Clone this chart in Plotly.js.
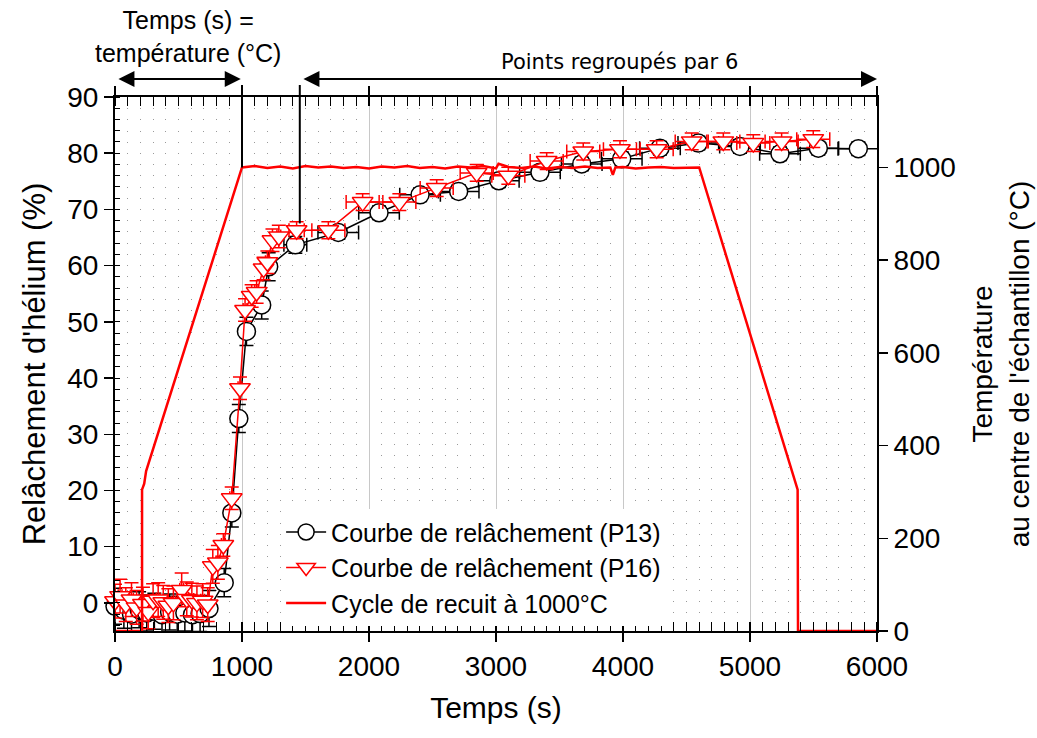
<!DOCTYPE html>
<html>
<head>
<meta charset="utf-8">
<script src="https://cdn.plot.ly/plotly-3.0.1.min.js"></script>
<style>html,body{margin:0;padding:0;background:#fff;}#chart{width:1037px;height:738px;}</style>
</head>
<body>
<div id="chart"></div>
<script>
// P13 release curve (black circles)
var t13 = [0, 70, 130, 190, 250, 310, 370, 430, 490, 550, 610, 670, 740, 860, 920, 975, 1035, 1155, 1210, 1420, 1758, 2079, 2402, 2706, 3022, 3346, 3675, 3990, 4291, 4593, 4921, 5236, 5538, 5853];
var y13 = [-0.6, -1.3, -2.0, -1.2, -1.8, -1.5, -2.1, -1.6, -2.0, -1.8, -2.1, -1.9, -1.0, 3.6, 16.0, 32.8, 48.3, 53.0, 59.8, 63.7, 65.9, 69.4, 72.6, 73.2, 75.1, 76.6, 78.1, 79.0, 80.9, 81.8, 81.2, 79.9, 80.9, 80.8];
var ey13 = [3.2, 3.2, 3.2, 3.2, 3.2, 3.2, 3.2, 3.2, 3.2, 3.2, 3.2, 3.2, 3.2, 2.5, 2.5, 2.5, 2.5, 2.5, 2.5, 1.5, 1.2, 1.2, 1.2, 1.2, 1.2, 1.2, 1.2, 1.2, 1.2, 1.2, 1.2, 1.2, 1.2, 1.2];
var ex13 = [10, 10, 10, 10, 10, 10, 10, 10, 10, 10, 10, 10, 10, 10, 10, 10, 10, 10, 10, 90, 160, 160, 160, 160, 160, 160, 160, 160, 160, 160, 160, 160, 160, 160];

// P16 release curve (red down-triangles)
var t16 = [0, 40, 85, 130, 170, 220, 262, 300, 340, 380, 420, 460, 525, 565, 605, 645, 690, 730, 770, 810, 853, 919, 984, 1024, 1076, 1115, 1170, 1200, 1240, 1290, 1430, 1680, 1950, 2239, 2533, 2848, 3097, 3399, 3687, 3976, 4265, 4541, 4790, 5026, 5249, 5498];
var y16 = [0.3, 1.2, -0.3, 0.6, -0.8, -0.2, -1.6, 0.4, 0.6, 0.1, -0.5, 0.0, 2.3, 0.7, 0.5, 0.0, 0.4, -0.3, 6.5, 7.2, 10.3, 18.6, 38.2, 52.1, 54.6, 55.3, 59.5, 60.6, 64.5, 65.2, 66.3, 66.3, 71.3, 71.3, 73.8, 76.5, 76.0, 78.6, 80.3, 80.7, 80.7, 82.1, 82.1, 81.8, 82.1, 82.5];
var ey16 = [3, 3, 3, 3, 3, 3, 3, 3, 3, 3, 3, 3, 3, 3, 3, 3, 3, 3, 3, 3, 2, 2, 2, 2, 2, 2, 2, 2, 2, 2, 1.5, 1.5, 1.5, 1.5, 1.5, 1.5, 1.5, 1.5, 1.5, 1.5, 1.5, 1.5, 1.5, 1.5, 1.5, 1.5];
var ex16 = [15, 15, 15, 15, 15, 15, 15, 15, 15, 15, 15, 15, 15, 15, 15, 15, 15, 15, 15, 15, 15, 15, 15, 15, 15, 15, 15, 15, 15, 15, 60, 130, 130, 130, 130, 130, 130, 130, 130, 130, 130, 130, 130, 130, 130, 130];

// Annealing cycle (temperature, °C)
var tCycle = [0, 213, 213, 230, 245, 1000, 1100, 1200, 1300, 1400, 1500, 1600, 1700, 1800, 1900, 2000, 2100, 2200, 2300, 2400, 2500, 2600, 2700, 2800, 2900, 3000, 3020, 3100, 3200, 3300, 3400, 3500, 3600, 3700, 3800, 3900, 3920, 3940, 4000, 4100, 4200, 4300, 4400, 4500, 4600, 5375, 5378, 6000];
var TCycle = [0, 0, 305, 318, 345, 1000, 1003, 999, 1002, 998, 1003, 1000, 1002, 999, 1001, 998, 1002, 1000, 1003, 999, 1001, 998, 1002, 1000, 1003, 998, 1008, 1001, 999, 1002, 998, 1001, 999, 1002, 999, 1000, 984, 1000, 1001, 998, 1000, 1001, 999, 1000, 1000, 305, 0, 0];

var names = ['Courbe de relâchement (P13)', 'Courbe de relâchement (P16)', 'Cycle de recuit à 1000°C'];
var xTicks = [0, 1000, 2000, 3000, 4000, 5000, 6000];
var yRange = [-5, 90];
var y2Range = [0, 1152];
var FONT = 'Liberation Sans, Arial, sans-serif';

var traces = [
  {
    x: t13, y: y13, name: names[0], type: 'scatter', mode: 'lines+markers',
    line: {color: '#000', width: 1.5},
    marker: {symbol: 'circle', size: 18, color: '#fff', line: {color: '#000', width: 1.5}},
    error_y: {type: 'data', array: ey13, visible: true, color: '#000', thickness: 1.5, width: 7},
    error_x: {type: 'data', array: ex13, visible: true, color: '#000', thickness: 1.5, width: 7},
    cliponaxis: false
  },
  {
    x: t16, y: y16, name: names[1], type: 'scatter', mode: 'lines+markers',
    line: {color: '#ff0000', width: 1.5},
    marker: {symbol: 'triangle-down', size: 18, color: '#fff', line: {color: '#ff0000', width: 1.5}},
    error_y: {type: 'data', array: ey16, visible: true, color: '#ff0000', thickness: 1.5, width: 7},
    error_x: {type: 'data', array: ex16, visible: true, color: '#ff0000', thickness: 1.5, width: 7},
    cliponaxis: false
  },
  {
    x: tCycle, y: TCycle, name: names[2], type: 'scatter', mode: 'lines', yaxis: 'y2',
    line: {color: '#ff0000', width: 2.5}
  }
];

var arrowY = 1.0337;
var lineTop = 1.0225;
var layout = {
  width: 1037, height: 738,
  margin: {l: 115, r: 160, t: 97, b: 107},
  paper_bgcolor: '#fff', plot_bgcolor: '#fff',
  font: {family: FONT, color: '#000'},
  showlegend: true,
  legend: {
    x: 0.218, y: 0.228, xanchor: 'left', yanchor: 'top',
    bgcolor: '#fff', borderwidth: 0,
    font: {family: FONT, size: 25, color: '#000'},
    tracegroupgap: 0, itemwidth: 40
  },
  xaxis: {
    range: [0, 6000], tickvals: xTicks, ticktext: xTicks.map(String),
    ticks: 'outside', ticklen: 9, tickwidth: 1.5, tickcolor: '#000',
    showline: true, linecolor: '#000', linewidth: 2, mirror: 'allticks',
    showgrid: true, gridcolor: '#c8c8c8', gridwidth: 1, zeroline: false,
    tickfont: {family: FONT, size: 28},
    minor: {dtick: 100, tick0: 0, ticks: 'inside', ticklen: 5, tickwidth: 1, tickcolor: '#000',
            showgrid: true, gridcolor: '#9a9a9a', gridwidth: 1, griddash: '1px,10.2px'},
    title: {text: 'Temps (s)', font: {family: FONT, size: 30}, standoff: 16}
  },
  yaxis: {
    range: yRange, dtick: 10, tick0: 0,
    ticks: 'outside', ticklen: 9, tickwidth: 1.5, tickcolor: '#000',
    showline: true, linecolor: '#000', linewidth: 2, mirror: false,
    showgrid: false, zeroline: false,
    tickfont: {family: FONT, size: 28},
    minor: {dtick: 2, tick0: 0, ticks: 'inside', ticklen: 5, tickwidth: 1, tickcolor: '#000', showgrid: false},
    title: {text: "Relâchement d'hélium (%)", font: {family: FONT, size: 31}, standoff: 12}
  },
  yaxis2: {
    overlaying: 'y', side: 'right', range: y2Range, dtick: 200, tick0: 0,
    ticks: 'outside', ticklen: 9, tickwidth: 1.5, tickcolor: '#000',
    showline: true, linecolor: '#000', linewidth: 2,
    showgrid: false, zeroline: false,
    tickfont: {family: FONT, size: 28},
    title: {text: "Température<br>au centre de l'échantillon (°C)", font: {family: FONT, size: 28}, standoff: 18}
  },
  shapes: [
    {type: 'line', xref: 'x', yref: 'paper', x0: 1000, x1: 1000,
     y0: 1000 / y2Range[1], y1: lineTop, line: {color: '#000', width: 2}},
    {type: 'line', xref: 'x', yref: 'paper', x0: 1455, x1: 1455,
     y0: (67.5 - yRange[0]) / (yRange[1] - yRange[0]), y1: lineTop, line: {color: '#000', width: 2}}
  ],
  annotations: [
    {x: 990, y: arrowY, xref: 'x', yref: 'paper', ax: 15, axref: 'x', ay: 0, ayref: 'pixel',
     showarrow: true, arrowside: 'end+start', arrowhead: 2, startarrowhead: 2,
     arrowsize: 1.6, startarrowsize: 1.6, arrowwidth: 2, arrowcolor: '#000', text: ''},
    {x: 6000, y: arrowY, xref: 'x', yref: 'paper', ax: 1472, axref: 'x', ay: 0, ayref: 'pixel',
     showarrow: true, arrowside: 'end+start', arrowhead: 2, startarrowhead: 2,
     arrowsize: 1.6, startarrowsize: 1.6, arrowwidth: 2, arrowcolor: '#000', text: ''},
    {x: 575, y: 1.114, xref: 'x', yref: 'paper', xanchor: 'center', yanchor: 'middle',
     showarrow: false, text: 'Temps (s) =<br>température (°C)', font: {family: FONT, size: 25}},
    {x: 3976, y: 1.0655, xref: 'x', yref: 'paper', xanchor: 'center', yanchor: 'middle',
     showarrow: false, text: 'Points regroupés par 6', font: {family: 'DejaVu Sans, sans-serif', size: 21}}
  ]
};

Plotly.newPlot('chart', traces, layout, {displayModeBar: false, staticPlot: true});
</script>
</body>
</html>
